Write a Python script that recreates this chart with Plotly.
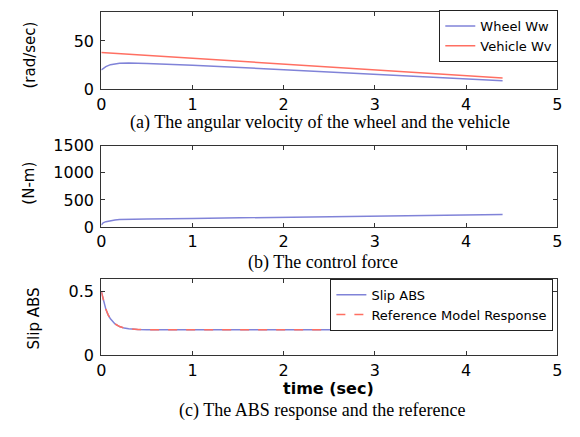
import plotly.graph_objects as go

# (a) angular velocity
t_a = [0, 0.05, 0.1, 0.15, 0.2, 0.3, 0.5, 1.0, 1.5, 2.0, 2.5, 3.0, 3.5, 4.0, 4.4]
wheel_ww = [20, 23.5, 25.5, 26.5, 27, 27.2, 26.8, 25, 22.6, 20.2, 17.8, 15.4, 13.1, 10.8, 8.8]
vehicle_wv = [38, 37.7, 37.4, 37.1, 36.8, 36.2, 35, 32, 29, 26.1, 23.2, 20.3, 17.4, 14.4, 11.8]

# (b) control force
t_b = [0, 0.02, 0.05, 0.1, 0.15, 0.2, 0.3, 0.5, 1.0, 1.5, 2.0, 2.5, 3.0, 3.5, 4.0, 4.4]
force = [40, 80, 100, 120, 132, 140, 145, 150, 160, 170, 180, 190, 200, 210, 222, 232]

# (c) slip response
t_c = [0, 0.025, 0.05, 0.075, 0.1, 0.15, 0.2, 0.25, 0.3, 0.4, 0.5, 1.0, 2.0, 3.0, 4.0, 4.4]
slip_abs = [0.5, 0.42, 0.36, 0.317, 0.286, 0.246, 0.225, 0.213, 0.207, 0.202, 0.2, 0.2, 0.2, 0.2, 0.2, 0.2]
ref_model = [0.5, 0.42, 0.36, 0.317, 0.286, 0.246, 0.225, 0.213, 0.207, 0.202, 0.2, 0.2, 0.2, 0.2, 0.2, 0.2]

x_ticks = [0, 1, 2, 3, 4, 5]

BLUE = "#8083d8"
RED = "#ff6f62"
W, H = 580, 437
SANS = "DejaVu Sans"

fig = go.Figure()
fig.add_trace(go.Scatter(x=t_a, y=wheel_ww, mode="lines", name="Wheel Ww",
                         line=dict(color=BLUE, width=1.5), xaxis="x", yaxis="y", legend="legend"))
fig.add_trace(go.Scatter(x=t_a, y=vehicle_wv, mode="lines", name="Vehicle Wv",
                         line=dict(color=RED, width=1.5), xaxis="x", yaxis="y", legend="legend"))
fig.add_trace(go.Scatter(x=t_b, y=force, mode="lines", name="Force", showlegend=False,
                         line=dict(color=BLUE, width=1.5), xaxis="x2", yaxis="y2"))
fig.add_trace(go.Scatter(x=t_c, y=slip_abs, mode="lines", name="Slip ABS",
                         line=dict(color=BLUE, width=1.5), xaxis="x3", yaxis="y3", legend="legend2"))
fig.add_trace(go.Scatter(x=t_c, y=ref_model, mode="lines", name="Reference Model Response",
                         line=dict(color=RED, width=1.5, dash="dash"), xaxis="x3", yaxis="y3", legend="legend2"))

def px_x(p):
    return p / W

def px_y(p):
    return 1 - p / H

xdom = [px_x(98), px_x(562)]
tickfont = dict(family=SANS, size=16, color="black")
common_axis = dict(showline=True, linecolor="#333", linewidth=1.2, mirror="allticks",
                   ticks="inside", ticklen=4, tickcolor="#333", showgrid=False,
                   zeroline=False, tickfont=tickfont)

layout = dict(
    width=W, height=H, margin=dict(l=0, r=0, t=0, b=0),
    paper_bgcolor="white", plot_bgcolor="white",
    xaxis=dict(domain=xdom, anchor="y", range=[0, 5], tickvals=x_ticks, **common_axis),
    yaxis=dict(domain=[px_y(84), px_y(3)], anchor="x", range=[0, 80], tickvals=[0, 50],
               ticklabelstandoff=3, **common_axis),
    xaxis2=dict(domain=xdom, anchor="y2", range=[0, 5], tickvals=x_ticks, **common_axis),
    yaxis2=dict(domain=[px_y(228), px_y(143)], anchor="x2", range=[0, 1500], tickvals=[0, 500, 1000, 1500],
                ticklabelstandoff=3, **common_axis),
    xaxis3=dict(domain=xdom, anchor="y3", range=[0, 5], tickvals=x_ticks, **common_axis),
    yaxis3=dict(domain=[px_y(362), px_y(282)], anchor="x3", range=[0, 0.6], tickvals=[0, 0.5],
                ticklabelstandoff=3, **common_axis),
    legend=dict(x=px_x(563), y=px_y(1), xanchor="right", yanchor="top",
                bordercolor="#222", borderwidth=1, bgcolor="white",
                font=dict(family=SANS, size=13, color="black"),
                tracegroupgap=0, itemwidth=30),
    legend2=dict(x=px_x(558), y=px_y(282), xanchor="right", yanchor="top",
                 bordercolor="#222", borderwidth=1, bgcolor="white",
                 font=dict(family=SANS, size=13, color="black"),
                 tracegroupgap=0, itemwidth=30),
    showlegend=True,
)
fig.update_layout(**layout)

serif = dict(family="Liberation Serif, Times New Roman", size=18, color="black")
captions = [
    ("(a) The angular velocity of the wheel and the vehicle", 321, 119),
    ("(b) The control force", 324, 265),
    ("(c) The ABS response and the reference", 323, 420),
]
for text, cx, cy in captions:
    fig.add_annotation(text=text, x=px_x(cx), y=px_y(cy), xref="paper", yref="paper",
                       showarrow=False, font=serif, xanchor="center", yanchor="middle")

ytitles = [("(rad/sec)", 25, 48), ("(N-m)", 25, 182), ("Slip ABS", 29, 324)]
for text, cx, cy in ytitles:
    fig.add_annotation(text=text, x=px_x(cx), y=px_y(cy), xref="paper", yref="paper",
                       showarrow=False, textangle=-90,
                       font=dict(family=SANS, size=15, color="black"),
                       xanchor="center", yanchor="middle")

fig.add_annotation(text="<b>time (sec)</b>", x=px_x(329), y=px_y(397), xref="paper", yref="paper",
                   showarrow=False, font=dict(family=SANS, size=16, color="black"),
                   xanchor="center", yanchor="middle")

fig.write_html("out.html")
